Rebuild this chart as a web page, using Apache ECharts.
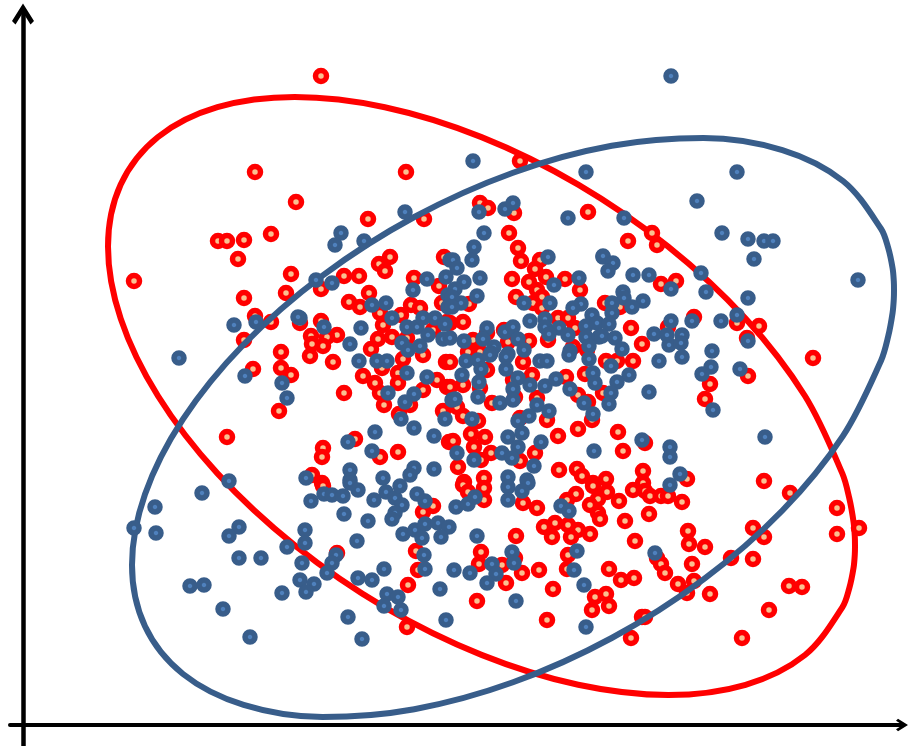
<!DOCTYPE html>
<html><head><meta charset="utf-8">
<style>html,body{margin:0;padding:0;background:#fff}#c{width:908px;height:746px}</style>
<script src="https://cdn.jsdelivr.net/npm/echarts@6/dist/echarts.min.js"></script>
</head><body><div id="c"></div>
<script>
const redPoints = [[321,76],[255,172],[406,172],[520,161],[296,202],[368,219],[424,219],[480,203],[488,208],[514,213],[588,212],[271,234],[218,241],[227,241],[244,240],[238,259],[134,281],[291,274],[286,293],[244,298],
[509,233],[518,248],[521,261],[540,260],[535,269],[546,277],[512,279],[529,282],[537,290],[565,279],[580,290],[516,297],[542,297],[533,303],[542,308],[469,304],[463,322],[450,323],[558,318],[568,318],[575,328],[548,340],[529,341],[504,330],[508,342],[487,333],[473,340],[468,352],[573,347],[587,350],[480,352],
[390,257],[379,264],[385,271],[444,257],[344,276],[359,276],[321,289],[414,278],[439,286],[369,293],[349,302],[360,307],[380,313],[411,305],[420,308],[442,303],[401,315],[321,321],[300,323],[383,325],[337,335],[311,336],[327,337],[312,344],[323,346],[378,339],[392,337],[371,349],[407,338],[447,322],[433,330],[310,356],
[333,362],[382,368],[403,359],[423,355],[446,362],[363,376],[375,383],[398,373],[398,383],[437,380],[447,387],[423,390],[344,393],[380,393],[384,405],[410,405],[399,414],[443,411],[449,442],[355,439],[323,448],[322,457],[380,457],[398,452],[312,475],[322,483],
[450,362],[487,370],[463,385],[450,387],[480,388],[523,362],[532,375],[513,380],[566,377],[585,374],[578,395],[588,402],[592,420],[578,429],[537,398],[515,397],[492,403],[457,407],[463,416],[478,421],[520,418],[547,420],[558,436],[471,434],[485,437],[453,441],[474,447],[535,453],[491,453],[481,460],[520,461],[458,467],[559,470],[577,469],[582,476],[464,482],[484,478],[593,483],
[628,241],[652,233],[657,245],[661,284],[676,281],[605,303],[620,307],[694,317],[668,327],[631,328],[642,344],[606,361],[617,361],[633,361],[737,323],[759,326],[747,338],[748,376],[710,384],[705,399],[603,393],[618,432],
[484,488],[484,500],[523,503],[537,508],[576,494],[567,500],[593,486],[607,492],[598,499],[590,505],[619,501],[633,490],[598,513],[600,519],[625,521],[544,527],[555,523],[552,537],[568,525],[578,530],[571,537],[590,534],[635,541],[516,536],[568,555],[567,569],[481,552],[479,564],[502,565],[515,558],[522,573],[539,570],[506,583],[553,589],[477,601],[547,620],[609,569],[621,580],[634,578],[595,597],[606,594],[609,606],[592,610],[631,638],[642,617],
[323,486],[463,485],[468,492],[433,506],[423,512],[416,551],[418,570],[408,585],[337,553],[407,627],
[645,443],[623,451],[606,479],[643,471],[643,483],[645,491],[650,496],[661,496],[668,496],[687,479],[682,502],[649,514],[688,531],[689,544],[705,547],[657,558],[661,564],[665,573],[692,564],[678,584],[694,581],[687,593],[710,594],[645,617],[731,558],[753,559],[753,528],[764,537],[764,481],[790,493],[837,508],[837,534],[859,528],[789,586],[802,587],[769,610],[742,638],
[813,358],[227,437],[253,369],[244,340],[255,316],[271,322],[281,352],[281,368],[291,375],[279,411]];

const bluePoints = [[671,76],[473,161],[586,172],[737,172],[697,201],[405,212],[479,212],[505,209],[513,203],[568,218],[624,218],[341,233],[335,245],[364,241],[316,280],[332,283],[413,290],[427,279],[446,277],[450,260],[448,295],[448,307],[372,305],[386,303],[392,318],[300,318],[324,327],[361,328],[350,344],[407,327],[417,327],[423,318],[435,318],[445,324],[428,335],[443,339],[402,343],[408,350],[420,346],
[484,233],[474,247],[472,260],[453,260],[457,268],[548,257],[603,257],[480,278],[464,282],[455,289],[477,296],[461,303],[452,297],[452,307],[524,303],[550,303],[554,285],[579,278],[581,304],[573,308],[530,321],[592,315],[545,319],[545,327],[559,328],[549,334],[568,335],[586,326],[597,323],[586,337],[599,337],[589,346],[570,351],[487,328],[483,339],[464,341],[505,332],[513,327],[518,339],[524,350],[494,347],[491,353],[508,354],[450,338],
[359,361],[377,361],[387,361],[407,373],[427,377],[388,393],[414,394],[405,402],[401,419],[414,428],[434,436],[445,419],[375,432],[348,442],[372,451],[350,470],[350,480],[414,468],[410,475],[383,478],[434,469],[306,478],[452,400],
[466,361],[478,360],[490,355],[506,357],[481,369],[506,369],[462,375],[479,382],[518,378],[530,385],[545,386],[556,379],[570,389],[513,389],[455,399],[478,397],[500,403],[513,400],[584,403],[537,405],[549,411],[529,416],[593,414],[518,421],[472,419],[508,437],[522,433],[518,447],[541,442],[594,451],[502,453],[512,458],[457,453],[474,460],[534,466],[508,477],[569,355],[589,359],[540,361],[547,361],[593,373],[595,383],[527,480],
[722,233],[748,239],[764,241],[773,241],[754,259],[701,273],[706,292],[748,298],[603,256],[613,263],[608,271],[633,275],[649,275],[671,289],[623,292],[624,298],[643,301],[612,303],[632,307],[612,313],[609,324],[602,336],[615,338],[622,349],[671,321],[692,321],[721,321],[737,315],[654,334],[667,335],[682,335],[669,345],[681,343],[682,357],[748,341],[712,351],[711,367],[702,374],[740,369],[659,361],[629,375],[617,382],[649,392],[611,366],[611,393],[609,404],[713,410],[858,280],
[311,501],[324,494],[332,495],[343,496],[350,483],[358,490],[344,514],[374,500],[368,521],[386,492],[395,498],[402,505],[395,513],[392,519],[400,486],[417,494],[425,501],[403,534],[415,530],[425,524],[438,523],[449,527],[441,537],[422,538],[456,507],[468,504],[357,541],[305,530],[305,543],[336,555],[332,563],[327,573],[302,563],[300,580],[314,584],[306,592],[358,578],[372,580],[384,569],[424,555],[425,569],[454,570],[470,573],[440,589],[387,594],[398,597],[384,606],[401,610],[446,620],[348,617],[362,639],
[508,487],[508,500],[528,483],[522,491],[475,497],[561,506],[569,511],[477,536],[512,552],[492,564],[514,563],[496,574],[487,583],[516,601],[577,551],[574,570],[584,585],[586,627],
[642,440],[670,447],[670,457],[680,474],[670,485],[655,553],[765,437],
[229,481],[202,493],[155,507],[134,528],[156,533],[239,527],[229,536],[239,558],[261,558],[287,547],[282,593],[190,586],[204,585],[223,609],[250,637],
[234,325],[256,322],[245,376],[179,358],[282,383],[287,398],[298,317]];

const redOutline = [[855,545.5],[854.8,554.4],[853.6,567.5],[849.3,588.1],[842.3,607.4],[805,655],[745.6,684.8],[668.3,695],[578.2,684.8],[481.5,654.9],[384.8,607.4],[294.8,545.4],[217.4,473.4],[158,396],[120.7,318.6],[108,246.5],[120.7,184.6],[158,137],[217.4,107.2],[294.7,97],[384.8,107.2],[481.5,137.1],[578.2,184.6],[668.2,246.6],[745.6,318.6],[805,396],[842.3,473.4],[849.3,498.3],[853.6,522.3],[854.8,536.4],[855,545.5]];

const blueOutline = [[894,290],[893.8,299],[892.6,312.7],[888.2,336.3],[881,360.7],[843,435.8],[782.4,510.5],[703.5,579.4],[611.7,638],[513,682.3],[414.3,709.2],[322.5,717],[243.6,704.9],[183,674],[145,626.3],[132,565],[145,494.3],[183,419.2],[243.6,344.5],[322.5,275.6],[414.3,217],[513,172.7],[611.7,145.8],[703.5,138],[782.4,150.1],[843,181],[881,228.7],[888.2,247.9],[892.6,268.3],[893.8,281.2],[894,290]];

const RED='#FF0000', RED_FILL='#FAC090', BLUE='#385D8A', BLUE_FILL='#4F81BD';
const chevron='path://M11 0L22 17.5L18.5 21L11 9L3.5 21L0 17.5Z';
const hidden={axisTick:{show:false},axisLabel:{show:false},splitLine:{show:false}};
const chart=echarts.init(document.getElementById('c'),null,{renderer:'canvas'});
chart.setOption({
  animation:false,
  backgroundColor:'#fff',
  grid:{left:10,right:6,top:14,bottom:0,containLabel:false},
  xAxis:Object.assign({type:'value',min:10,max:902,offset:-21,
    axisLine:{show:true,onZero:false,symbol:['none',chevron],symbolSize:[20,12],lineStyle:{color:'#000',width:4}}},hidden),
  yAxis:Object.assign({type:'value',min:14,max:746,inverse:true,offset:-13,
    axisLine:{show:true,onZero:false,symbol:['none',chevron],symbolSize:[22,21],lineStyle:{color:'#000',width:4.5}}},hidden),
  series:[
    {type:'line',name:'Red outline',data:redOutline,showSymbol:false,smooth:0.337,z:1,lineStyle:{color:RED,width:6}},
    {type:'scatter',name:'Red',data:redPoints,symbol:'circle',symbolSize:11,z:2,itemStyle:{color:RED_FILL,borderColor:RED,borderWidth:5.5,opacity:1}},
    {type:'line',name:'Blue outline',data:blueOutline,showSymbol:false,smooth:0.337,z:3,lineStyle:{color:BLUE,width:6}},
    {type:'scatter',name:'Blue',data:bluePoints,symbol:'circle',symbolSize:10,z:4,itemStyle:{color:BLUE_FILL,borderColor:BLUE,borderWidth:5.5,opacity:1}}
  ]
});
</script></body></html>
